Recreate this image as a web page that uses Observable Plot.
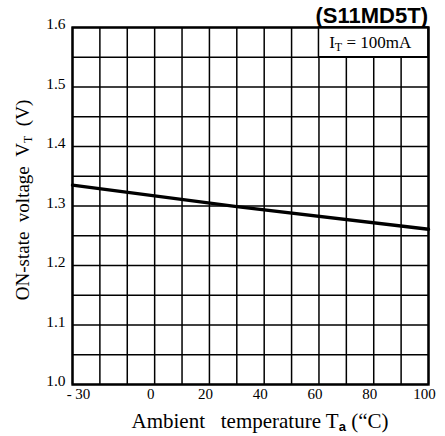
<!DOCTYPE html>
<html>
<head>
<meta charset="utf-8">
<script src="https://cdn.jsdelivr.net/npm/d3@7"></script>
<script src="https://cdn.jsdelivr.net/npm/@observablehq/plot@0.6"></script>
<style>
  body { margin: 0; background: #fff; }
  svg { display: block; }
</style>
</head>
<body>
<div id="chart"></div>
<script>
// ON-state voltage vs. ambient temperature, I_T = 100 mA
const temperature = [-30, 30, 100];
const onVoltage = [1.335, 1.299, 1.261];

// grid divisions
const gridTemps = [-30, -20, -10, 0, 10, 20, 30, 40, 50, 60, 70, 80, 90, 100];
const gridVolts = [1.0, 1.05, 1.1, 1.15, 1.2, 1.25, 1.3, 1.35, 1.4, 1.45, 1.5, 1.55, 1.6];

// axis ticks
const xTickValues = [-30, 0, 20, 40, 60, 80, 100];
const xTickLabels = ["- 30", "0", "20", "40", "60", "80", "100"];
const yTickValues = [1.0, 1.1, 1.2, 1.3, 1.4, 1.5, 1.6];
const yTickLabels = ["1.0", "1.1", "1.2", "1.3", "1.4", "1.5", "1.6"];

const partName = "(S11MD5T)";

const serif = "'Liberation Serif', 'DejaVu Serif', serif";
const sans = "'Liberation Sans', Arial, sans-serif";

const data = temperature.map((t, i) => ({t, v: onVoltage[i]}));

const plot = Plot.plot({
  width: 445,
  height: 436,
  marginTop: 27,
  marginRight: 17,
  marginBottom: 52,
  marginLeft: 72,
  style: {fontFamily: serif, fontSize: "15px", color: "#000", background: "#fff"},
  x: {domain: [-30, 100]},
  y: {domain: [1.0, 1.6]},
  marks: [
    Plot.ruleX(gridTemps, {stroke: "#000", strokeWidth: 1.5}),
    Plot.ruleY(gridVolts, {stroke: "#000", strokeWidth: 1.5}),
    // condition box in the top-right cell row
    Plot.rect([{x1: 60, x2: 100, y1: 1.55, y2: 1.6}], {
      x1: "x1", x2: "x2", y1: "y1", y2: "y2",
      fill: "#fff", stroke: "#000", strokeWidth: 1.5
    }),
    Plot.line(data, {x: "t", y: "v", stroke: "#000", strokeWidth: 3.4}),
    Plot.frame({stroke: "#000", strokeWidth: 2.4}),
    Plot.axisX({
      ticks: xTickValues, tickSize: 0, tickPadding: 4, label: null, dx: -4,
      tickFormat: d => xTickLabels[xTickValues.indexOf(d)],
      fontSize: 15
    }),
    Plot.axisY({
      ticks: yTickValues, tickSize: 0, tickPadding: 7, label: null, dy: -3,
      tickFormat: d => yTickLabels[yTickValues.indexOf(+d.toFixed(2))],
      fontSize: 15.5
    })
  ]
});

document.getElementById("chart").appendChild(plot);

const svg = d3.select(plot);
const xs = plot.scale("x"), ys = plot.scale("y");

// nudge the "- 30" label right so it clears the "1.0" label
svg.selectAll("g[aria-label='x-axis tick label'] text")
  .filter(function () { return this.textContent === xTickLabels[0]; })
  .attr("dx", 10);

// part number above the frame
svg.append("text")
  .attr("x", 428).attr("y", 23)
  .attr("text-anchor", "end")
  .attr("font-family", sans)
  .attr("font-weight", "bold")
  .attr("font-size", 22)
  .text(partName);

// condition label inside the box
const cond = svg.append("text")
  .attr("x", xs.apply(80) - 3).attr("y", ys.apply(1.575) + 6)
  .attr("text-anchor", "middle")
  .attr("font-family", serif)
  .attr("font-size", 17);
cond.append("tspan").text("I");
cond.append("tspan").attr("font-size", 12).attr("dy", 3).text("T");
cond.append("tspan").attr("dy", -3).text(" = 100mA");

// x-axis title
const xl = svg.append("text")
  .attr("x", 260).attr("y", 428)
  .attr("text-anchor", "middle")
  .attr("font-family", serif)
  .attr("font-size", 21);
xl.append("tspan").text("Ambient\u00a0\u00a0\u00a0temperature T");
xl.append("tspan").attr("font-family", sans).attr("font-weight", "bold")
  .attr("font-size", 13).attr("dy", 3).text("a");
xl.append("tspan").attr("dy", -3).text(" (\u201cC)");

// y-axis title
const yl = svg.append("text")
  .attr("transform", "translate(29,200) rotate(-90)")
  .attr("text-anchor", "middle")
  .attr("font-family", serif)
  .attr("font-size", 19);
yl.append("tspan").text("ON-state\u2002voltage\u2002V");
yl.append("tspan").attr("font-size", 12).attr("dy", 3).text("T");
yl.append("tspan").attr("dy", -3).text("\u2002(V)");
</script>
</body>
</html>
